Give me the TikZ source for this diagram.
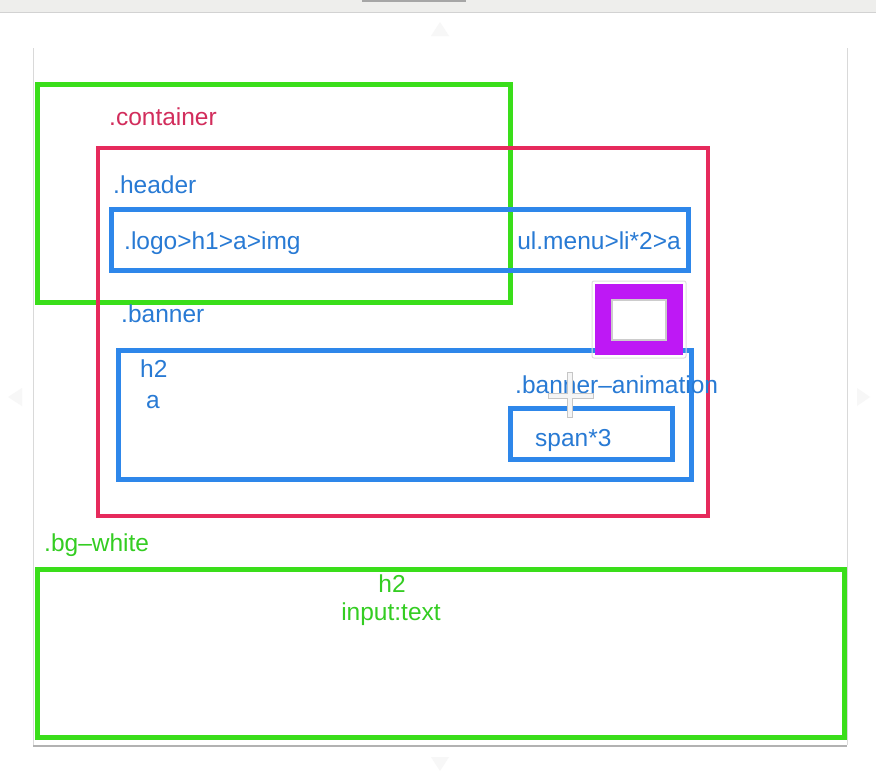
\documentclass[tikz,border=0pt]{standalone}
\usepackage{fontspec}
\setmainfont{Liberation Sans}
\usepackage{tikz}
\usetikzlibrary{positioning}
\definecolor{boxgreen}{RGB}{58,222,26}
\definecolor{boxred}{RGB}{230,42,92}
\definecolor{boxblue}{RGB}{46,135,234}
\definecolor{boxpurple}{RGB}{190,24,245}
\definecolor{txtgreen}{RGB}{52,205,34}
\definecolor{txtred}{RGB}{210,45,92}
\definecolor{txtblue}{RGB}{40,122,212}
\definecolor{barbg}{RGB}{238,238,236}

\begin{document}
\begin{tikzpicture}[x=1pt,y=-1pt,
	greenbox/.style={draw=boxgreen, line width=5pt},
	redbox/.style={draw=boxred, line width=4pt},
	bluebox/.style={draw=boxblue, line width=5pt},
	lbl/.style={inner sep=0pt, font=\fontsize{24.5}{28}\selectfont},
	chevron/.style={fill=gray!6, draw=none}]
		\useasboundingbox[fill=white] (0,0) rectangle (876,771);
		% window bar and page
		\fill[barbg] (0,0) rectangle (876,12);
		\draw[gray!35] (0,12.5) -- (876,12.5);
		\fill[gray!70] (362,0) rectangle (466,2);
		\draw[gray!30] (33,48) -- (33,745);
		\draw[gray!30] (847,48) -- (847,745);
		\draw[gray!60, line width=1.5pt] (33,746) -- (847,746);
		% edge chevrons
		\fill[chevron] (440,22) -- (449,36) -- (431,36) -- cycle;
		\fill[chevron] (8,397) -- (22,388) -- (22,406) -- cycle;
		\fill[chevron] (870,397) -- (857,388) -- (857,406) -- cycle;
		\fill[chevron] (440,771) -- (449,757) -- (431,757) -- cycle;
		% boxes
		\draw[greenbox] (37,84) rectangle (510,302);
		\draw[redbox] (98,148) rectangle (708,516);
		\draw[bluebox] (111,209) rectangle (688,270);
		\draw[bluebox] (118,350) rectangle (691,479);
		\draw[bluebox] (510,408) rectangle (672,459);
		\draw[greenbox] (37,569) rectangle (844,737);
		% selected square
		\draw[gray!25, line width=1pt, rounded corners=2pt] (592,281) rectangle (686,358);
		\fill[boxpurple] (595,284) rectangle (683,355);
		\draw[gray!40, fill=white, line width=1.2pt] (612,300) rectangle (666,340);
		% labels
		\node[lbl, anchor=base west, text=txtred] (container) at (109,125) {.container};
		\node[lbl, anchor=base west, text=txtblue] (header) at (113,193) {.header};
		\node[lbl, anchor=base west, text=txtblue] (logo) at (124,249) {.logo>h1>a>img};
		\node[lbl, anchor=base east, text=txtblue] (menu) at (681,249) {ul.menu>li*2>a};
		\node[lbl, anchor=base west, text=txtblue] (banner) at (121,322) {.banner};
		\node[lbl, anchor=base west, text=txtblue] (bannerh) at (140,377) {h2};
		\node[lbl, anchor=base west, text=txtblue] (bannera) at (146,408) {a};
		\node[lbl, anchor=base west, text=txtblue] (anim) at (515,393) {.banner--animation};
		\node[lbl, anchor=base west, text=txtblue] (span) at (535,446) {span*3};
		\node[lbl, anchor=base west, text=txtgreen] (bgwhite) at (44,551) {.bg--white};
		\node[lbl, anchor=base, text=txtgreen] (bgh) at (392,592) {h2};
		\node[lbl, anchor=base, text=txtgreen] (bginput) at (391,620) {input:text};
		% cursor
		\draw[gray!45, line width=6pt] (548,396) -- (594,396) (570,372) -- (570,418);
		\draw[white!92!gray, line width=3.5pt] (549,396) -- (593,396) (570,373) -- (570,417);
	\end{tikzpicture}
\end{document}
